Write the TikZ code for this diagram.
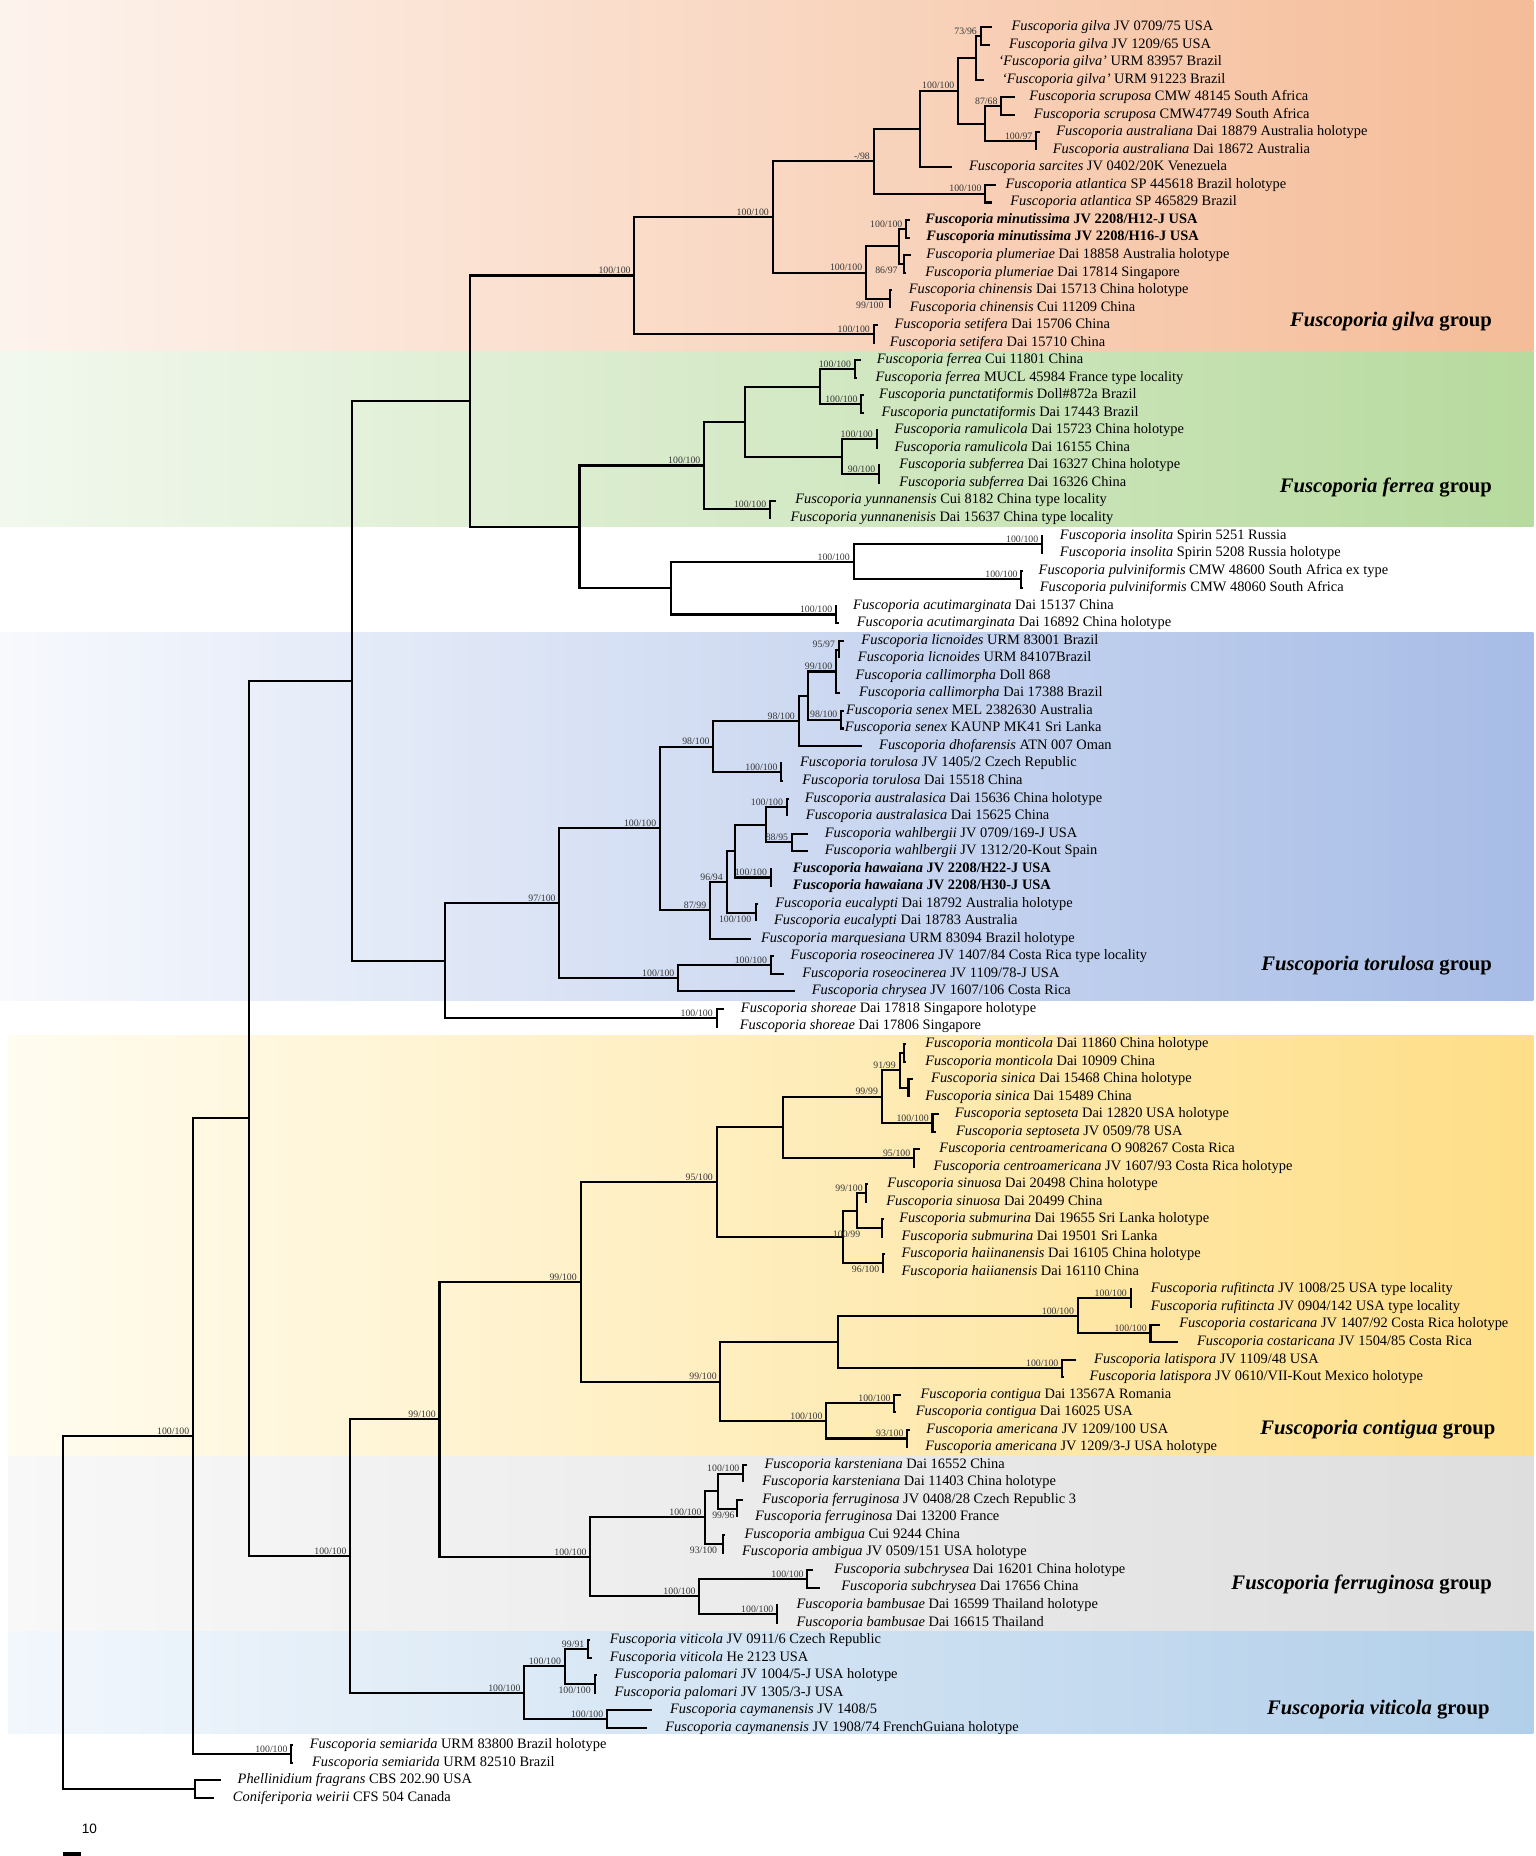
\documentclass[tikz,border=0pt]{standalone}
\usepackage{fontspec}
\setmainfont{Liberation Serif}
\newfontfamily\arialf{Liberation Sans}
\definecolor{gilL}{RGB}{253,243,237}
\definecolor{gilR}{RGB}{245,188,152}
\definecolor{ferL}{RGB}{242,248,238}
\definecolor{ferR}{RGB}{183,218,158}
\definecolor{torL}{RGB}{247,249,253}
\definecolor{torR}{RGB}{167,188,230}
\definecolor{conL}{RGB}{255,252,240}
\definecolor{conR}{RGB}{254,222,135}
\definecolor{fguL}{RGB}{248,248,248}
\definecolor{fguR}{RGB}{222,222,222}
\definecolor{vitL}{RGB}{242,247,252}
\definecolor{vitR}{RGB}{178,207,234}
\definecolor{supc}{RGB}{55,55,55}
\newcommand\F[1]{\textit{Fuscoporia #1}}
\newcommand\lf[4]{\coordinate (t#1) at (#2,#1); \node[leaf] (L#1) at (#3,#1) {#4};}
\newcommand\kids[2]{\foreach \kk in {#2}{\draw[br] (#1) |- (\kk);}}
\newcommand\sa[3]{\node[sup,anchor=south east] (#1) at ([xshift=-3pt,yshift=1.2pt]#2) {#3};}
\newcommand\sbw[4]{\node[sup,anchor=north east] (#1) at ([xshift=#4,yshift=-2.5pt]#2) {#3};}
\begin{document}
\begin{tikzpicture}[x=1pt,y=-14.84pt,
  br/.style={line width=1.75pt},
  leaf/.style={anchor=west, inner sep=0pt, font=\fontsize{12.2}{14}\selectfont, text height=8.4pt, text depth=2.6pt},
  sup/.style={inner sep=0pt, font=\fontsize{8.3}{9}\selectfont, text=supc},
  grp/.style={anchor=east, inner sep=0pt, font=\fontsize{17.5}{20}\selectfont\bfseries}]
% ---------- background bands (px units) ----------
\begin{scope}[y=-1pt, yshift=8.16pt]
  \useasboundingbox (0,0) rectangle (1300,1571);
  \shade[left color=gilL, right color=gilR] (0,0) rectangle (1298,297.5);
  \shade[left color=ferL, right color=ferR] (0,297.5) rectangle (1298,445.9);
  \shade[left color=torL, right color=torR] (0,535) rectangle (1298,846.6);
  \shade[left color=conL, right color=conR] (7,876.3) rectangle (1298,1232.5);
  \shade[left color=fguL, right color=fguR] (7,1232.5) rectangle (1298,1380.9);
  \shade[left color=vitL, right color=vitR] (7,1380.9) rectangle (1298,1467);
  \node[grp] (G1) at (1263,272) {\textit{Fuscoporia gilva} group};
  \node[grp] (G2) at (1263,413) {\textit{Fuscoporia ferrea} group};
  \node[grp] (G3) at (1263,817) {\textit{Fuscoporia torulosa} group};
  \node[grp] (G4) at (1266,1210) {\textit{Fuscoporia contigua} group};
  \node[grp] (G5) at (1263,1341) {\textit{Fuscoporia ferruginosa} group};
  \node[grp] (G6) at (1261,1447) {\textit{Fuscoporia viticola} group};
  \node[anchor=west, inner sep=0pt, font=\arialf\fontsize{11.5}{12}\selectfont] (sc) at (69,1548) {10};
  \coordinate (sbA) at (53.5,1569.2);
  \coordinate (sbB) at (68.5,1569.2);
  \draw[line width=3pt] (sbA) -- (sbB);
\end{scope}
% ---------- leaves ----------
\lf{1}{840}{856}{\F{gilva} JV 0709/75 USA}
\lf{2}{838}{854}{\F{gilva} JV 1209/65 USA}
\lf{3}{827}{845}{\textit{‘Fuscoporia gilva’} URM 83957 Brazil}
\lf{4}{833}{848}{\textit{‘Fuscoporia gilva’} URM 91223 Brazil}
\lf{5}{859}{871}{\F{scruposa} CMW 48145 South Africa}
\lf{6}{859}{875}{\F{scruposa} CMW47749 South Africa}
\lf{7}{880}{894}{\F{australiana} Dai 18879 Australia holotype}
\lf{8}{877}{891}{\F{australiana} Dai 18672 Australia}
\lf{9}{806}{820}{\F{sarcites} JV 0402/20K Venezuela}
\lf{10}{843}{851}{\F{atlantica} SP 445618 Brazil holotype}
\lf{11}{840}{855}{\F{atlantica} SP 465829 Brazil}
\lf{12}{770}{783}{\textbf{\F{minutissima} JV 2208/H12-J USA}}
\lf{13}{770}{784}{\textbf{\F{minutissima} JV 2208/H16-J USA}}
\lf{14}{771}{784}{\F{plumeriae} Dai 18858 Australia holotype}
\lf{15}{767}{783}{\F{plumeriae} Dai 17814 Singapore}
\lf{16}{755}{769}{\F{chinensis} Dai 15713 China holotype}
\lf{17}{753}{770}{\F{chinensis} Cui 11209 China}
\lf{18}{743}{757}{\F{setifera} Dai 15706 China}
\lf{19}{740}{753}{\F{setifera} Dai 15710 China}
\lf{20}{729}{742}{\F{ferrea} Cui 11801 China}
\lf{21}{725}{741}{\F{ferrea} MUCL 45984 France type locality}
\lf{22}{731}{744}{\F{punctatiformis} Doll\#872a Brazil}
\lf{23}{731}{746}{\F{punctatiformis} Dai 17443 Brazil}
\lf{24}{743}{757}{\F{ramulicola} Dai 15723 China holotype}
\lf{25}{743}{757}{\F{ramulicola} Dai 16155 China}
\lf{26}{745}{761}{\F{subferrea} Dai 16327 China holotype}
\lf{27}{745}{761}{\F{subferrea} Dai 16326 China}
\lf{28}{657}{673}{\F{yunnanensis} Cui 8182 China type locality}
\lf{29}{653}{669}{\F{yunnanenisis} Dai 15637 China type locality}
\lf{30}{883}{897}{\F{insolita} Spirin 5251 Russia}
\lf{31}{883}{897}{\F{insolita} Spirin 5208 Russia holotype}
\lf{32}{865.5}{879}{\F{pulviniformis} CMW 48600 South Africa ex type}
\lf{33}{865.5}{880}{\F{pulviniformis} CMW 48060 South Africa}
\lf{34}{708}{722}{\F{acutimarginata} Dai 15137 China}
\lf{35}{710}{725}{\F{acutimarginata} Dai 16892 China holotype}
\lf{36}{714}{729}{\F{licnoides} URM 83001 Brazil}
\lf{37}{710}{726}{\F{licnoides} URM 84107Brazil}
\lf{38}{708}{724}{\F{callimorpha} Doll 868}
\lf{39}{711}{727}{\F{callimorpha} Dai 17388 Brazil}
\lf{40}{714}{716}{\F{senex} MEL 2382630 Australia}
\lf{41}{714}{715}{\F{senex} KAUNP MK41 Sri Lanka}
\lf{42}{730}{744}{\F{dhofarensis} ATN 007 Oman}
\lf{43}{662}{677}{\F{torulosa} JV 1405/2 Czech Republic}
\lf{44}{663}{679}{\F{torulosa} Dai 15518 China}
\lf{45}{668}{681}{\F{australasica} Dai 15636 China holotype}
\lf{46}{666}{682}{\F{australasica} Dai 15625 China}
\lf{47}{684}{698}{\F{wahlbergii} JV 0709/169-J USA}
\lf{48}{684}{698}{\F{wahlbergii} JV 1312/20-Kout Spain}
\lf{49}{653}{671}{\textbf{\F{hawaiana} JV 2208/H22-J USA}}
\lf{50}{653}{671}{\textbf{\F{hawaiana} JV 2208/H30-J USA}}
\lf{51}{642}{656}{\F{eucalypti} Dai 18792 Australia holotype}
\lf{52}{640}{655}{\F{eucalypti} Dai 18783 Australia}
\lf{53}{636}{644}{\F{marquesiana} URM 83094 Brazil holotype}
\lf{54}{655}{669}{\F{roseocinerea} JV 1407/84 Costa Rica type locality}
\lf{55}{664}{679}{\F{roseocinerea} JV 1109/78-J USA}
\lf{56}{673}{687}{\F{chrysea} JV 1607/106 Costa Rica}
\lf{57}{613}{627}{\F{shoreae} Dai 17818 Singapore holotype}
\lf{58}{608}{626}{\F{shoreae} Dai 17806 Singapore}
\lf{59}{767}{783}{\F{monticola} Dai 11860 China holotype}
\lf{60}{767}{783}{\F{monticola} Dai 10909 China}
\lf{61}{773}{788}{\F{sinica} Dai 15468 China holotype}
\lf{62}{769}{783}{\F{sinica} Dai 15489 China}
\lf{63}{795}{808}{\F{septoseta} Dai 12820 USA holotype}
\lf{64}{792}{809}{\F{septoseta} JV 0509/78 USA}
\lf{65}{779}{795}{\F{centroamericana} O 908267 Costa Rica}
\lf{66}{774}{790}{\F{centroamericana} JV 1607/93 Costa Rica holotype}
\lf{67}{735}{751}{\F{sinuosa} Dai 20498 China holotype}
\lf{68}{734}{750}{\F{sinuosa} Dai 20499 China}
\lf{69}{748}{761}{\F{submurina} Dai 19655 Sri Lanka holotype}
\lf{70}{747}{763}{\F{submurina} Dai 19501 Sri Lanka}
\lf{71}{749}{763}{\F{haiinanensis} Dai 16105 China holotype}
\lf{72}{748}{763}{\F{haiianensis} Dai 16110 China}
\lf{73}{958}{974}{\F{rufitincta} JV 1008/25 USA type locality}
\lf{74}{958}{974}{\F{rufitincta} JV 0904/142 USA type locality}
\lf{75}{982}{998}{\F{costaricana} JV 1407/92 Costa Rica holotype}
\lf{76}{997}{1013}{\F{costaricana} JV 1504/85 Costa Rica}
\lf{77}{911}{926}{\F{latispora} JV 1109/48 USA}
\lf{78}{901}{922}{\F{latispora} JV 0610/VII-Kout Mexico holotype}
\lf{79}{763}{779}{\F{contigua} Dai 13567A Romania}
\lf{80}{758}{775}{\F{contigua} Dai 16025 USA}
\lf{81}{770}{784}{\F{americana} JV 1209/100 USA}
\lf{82}{768}{783}{\F{americana} JV 1209/3-J USA holotype}
\lf{83}{632}{647}{\F{karsteniana} Dai 16552 China}
\lf{84}{629}{645}{\F{karsteniana} Dai 11403 China holotype}
\lf{85}{629}{645}{\F{ferruginosa} JV 0408/28 Czech Republic 3}
\lf{86}{624}{639}{\F{ferruginosa} Dai 13200 France}
\lf{87}{614}{630}{\F{ambigua} Cui 9244 China}
\lf{88}{612}{628}{\F{ambigua} JV 0509/151 USA holotype}
\lf{89}{688}{706}{\F{subchrysea} Dai 16201 China holotype}
\lf{90}{694}{712}{\F{subchrysea} Dai 17656 China}
\lf{91}{658}{674}{\F{bambusae} Dai 16599 Thailand holotype}
\lf{92}{658}{674}{\F{bambusae} Dai 16615 Thailand}
\lf{93}{499}{516}{\F{viticola} JV 0911/6 Czech Republic}
\lf{94}{501}{516}{\F{viticola} He 2123 USA}
\lf{95}{505}{520}{\F{palomari} JV 1004/5-J USA holotype}
\lf{96}{504}{520}{\F{palomari} JV 1305/3-J USA}
\lf{97}{552}{567}{\F{caymanensis} JV 1408/5}
\lf{98}{548}{563}{\F{caymanensis} JV 1908/74 FrenchGuiana holotype}
\lf{99}{248}{262}{\F{semiarida} URM 83800 Brazil holotype}
\lf{100}{248}{264}{\F{semiarida} URM 82510 Brazil}
\lf{101}{187}{201}{\textit{Phellinidium fragrans} CBS 202.90 USA}
\lf{102}{181}{197}{\textit{Coniferiporia weirii} CFS 504 Canada}
% ---------- internal nodes ----------
\coordinate (g12) at (830,1.5);
\coordinate (g1234) at (826,2.75);
\coordinate (g56) at (847.5,5.5);
\coordinate (g78) at (877,7.5);
\coordinate (gSA) at (834,6.5);
\coordinate (gG) at (811,4.625);
\coordinate (gGS) at (779,6.8125);
\coordinate (gAt) at (834,10.5);
\coordinate (gM) at (739.5,8.656);
\coordinate (gMi) at (767,12.5);
\coordinate (gPl) at (765,14.5);
\coordinate (gMP) at (761,13.5);
\coordinate (gCh) at (753,16.5);
\coordinate (gMin) at (733,15);
\coordinate (gX) at (654,11.828);
\coordinate (gSe) at (739.5,18.5);
\coordinate (gS) at (537,15.164);
\coordinate (fFe) at (723.5,20.5);
\coordinate (fPu) at (729,22.5);
\coordinate (fFP) at (694.3,21.5);
\coordinate (fRa) at (742,24.5);
\coordinate (fSu) at (744,26.5);
\coordinate (fRS) at (713,25.5);
\coordinate (fFPRS) at (630.4,23.5);
\coordinate (fYu) at (651.7,28.5);
\coordinate (fG) at (596,26);
\coordinate (iIn) at (882,30.5);
\coordinate (iPu) at (864.5,32.5);
\coordinate (iIP) at (722.5,31.5);
\coordinate (iAc) at (707.6,34.5);
\coordinate (i567) at (567.6,33);
\coordinate (n490) at (490.5,29.5);
\coordinate (n398) at (398,22.332);
\coordinate (tLi) at (710,36.5);
\coordinate (tLC) at (707.6,37.75);
\coordinate (tSe) at (712,40.5);
\coordinate (tLS) at (683.6,39.125);
\coordinate (tLSD) at (676,40.5625);
\coordinate (tTo) at (661.3,43.5);
\coordinate (tT1) at (603.8,42.031);
\coordinate (tAu) at (666,45.5);
\coordinate (tWa) at (670.3,47.5);
\coordinate (tAW) at (648,46.5);
\coordinate (tHa) at (652.4,49.5);
\coordinate (tN622) at (622.5,48);
\coordinate (tEu) at (640,51.5);
\coordinate (tN615) at (615,49.75);
\coordinate (tN601) at (601,51.375);
\coordinate (tT2) at (558.6,46.703);
\coordinate (tRo) at (652.4,54.5);
\coordinate (tRC) at (574,55.25);
\coordinate (tN97) at (473.5,50.977);
\coordinate (sSh) at (606.5,57.5);
\coordinate (n377) at (377,54.238);
\coordinate (n298) at (298,38.285);
\coordinate (cMo) at (765,59.5);
\coordinate (cSi) at (769,61.5);
\coordinate (cMS) at (761.4,60.5);
\coordinate (cSp) at (789.3,63.5);
\coordinate (c99) at (746.3,62);
\coordinate (cCe) at (773.7,65.5);
\coordinate (c662) at (662.5,63.75);
\coordinate (cSn) at (733.4,67.5);
\coordinate (cSb) at (746.3,69.5);
\coordinate (cSS) at (725,68.5);
\coordinate (cHa) at (747.4,71.5);
\coordinate (c714) at (713.9,70);
\coordinate (c606) at (606.6,66.875);
\coordinate (cRu) at (957,73.5);
\coordinate (cCo) at (973.8,75.5);
\coordinate (cRC) at (912.3,74.5);
\coordinate (cLa) at (899,77.5);
\coordinate (c710) at (709.5,76);
\coordinate (cCt) at (757,79.5);
\coordinate (cAm) at (767.9,81.5);
\coordinate (c699) at (699.4,80.5);
\coordinate (c610) at (609.8,78.25);
\coordinate (c491) at (491.4,72.5625);
\coordinate (fKa) at (629,83.5);
\coordinate (fFr) at (624,85.5);
\coordinate (fKF) at (608,84.5);
\coordinate (fAm) at (611.7,87.5);
\coordinate (f597) at (597,86);
\coordinate (fSc) at (683.4,89.5);
\coordinate (fBa) at (657.8,91.5);
\coordinate (f592) at (592,90.5);
\coordinate (f499) at (499.7,88.25);
\coordinate (n372) at (372,80.406);
\coordinate (vVi) at (497.8,93.5);
\coordinate (vPa) at (503.7,95.5);
\coordinate (vVP) at (478,94.5);
\coordinate (vCa) at (513.8,97.5);
\coordinate (vG) at (443.7,96);
\coordinate (n296) at (296.5,88.203);
\coordinate (n211) at (211,63.244);
\coordinate (sSe) at (246.5,99.5);
\coordinate (n163) at (163.4,81.372);
\coordinate (oOG) at (165,101.5);
\coordinate (root) at (53.5,91.436);
% ---------- branches ----------
\kids{g12}{t1,t2}
\kids{g1234}{g12,t3,t4}
\kids{g56}{t5,t6}
\kids{g78}{t7,t8}
\kids{gSA}{g56,g78}
\kids{gG}{g1234,gSA}
\kids{gGS}{gG,t9}
\kids{gAt}{t10,t11}
\kids{gM}{gGS,gAt}
\kids{gMi}{t12,t13}
\kids{gPl}{t14,t15}
\kids{gMP}{gMi,gPl}
\kids{gCh}{t16,t17}
\kids{gMin}{gMP,gCh}
\kids{gX}{gM,gMin}
\kids{gSe}{t18,t19}
\kids{gS}{gX,gSe}
\kids{fFe}{t20,t21}
\kids{fPu}{t22,t23}
\kids{fFP}{fFe,fPu}
\kids{fRa}{t24,t25}
\kids{fSu}{t26,t27}
\kids{fRS}{fRa,fSu}
\kids{fFPRS}{fFP,fRS}
\kids{fYu}{t28,t29}
\kids{fG}{fFPRS,fYu}
\kids{iIn}{t30,t31}
\kids{iPu}{t32,t33}
\kids{iIP}{iIn,iPu}
\kids{iAc}{t34,t35}
\kids{i567}{iIP,iAc}
\kids{n490}{fG,i567}
\kids{n398}{gS,n490}
\kids{tLi}{t36,t37}
\kids{tLC}{tLi,t38,t39}
\kids{tSe}{t40,t41}
\kids{tLS}{tLC,tSe}
\kids{tLSD}{tLS,t42}
\kids{tTo}{t43,t44}
\kids{tT1}{tLSD,tTo}
\kids{tAu}{t45,t46}
\kids{tWa}{t47,t48}
\kids{tAW}{tAu,tWa}
\kids{tHa}{t49,t50}
\kids{tN622}{tAW,tHa}
\kids{tEu}{t51,t52}
\kids{tN615}{tN622,tEu}
\kids{tN601}{tN615,t53}
\kids{tT2}{tT1,tN601}
\kids{tRo}{t54,t55}
\kids{tRC}{tRo,t56}
\kids{tN97}{tT2,tRC}
\kids{sSh}{t57,t58}
\kids{n377}{tN97,sSh}
\kids{n298}{n398,n377}
\kids{cMo}{t59,t60}
\kids{cSi}{t61,t62}
\kids{cMS}{cMo,cSi}
\kids{cSp}{t63,t64}
\kids{c99}{cMS,cSp}
\kids{cCe}{t65,t66}
\kids{c662}{c99,cCe}
\kids{cSn}{t67,t68}
\kids{cSb}{t69,t70}
\kids{cSS}{cSn,cSb}
\kids{cHa}{t71,t72}
\kids{c714}{cSS,cHa}
\kids{c606}{c662,c714}
\kids{cRu}{t73,t74}
\kids{cCo}{t75,t76}
\kids{cRC}{cRu,cCo}
\kids{cLa}{t77,t78}
\kids{c710}{cRC,cLa}
\kids{cCt}{t79,t80}
\kids{cAm}{t81,t82}
\kids{c699}{cCt,cAm}
\kids{c610}{c710,c699}
\kids{c491}{c606,c610}
\kids{fKa}{t83,t84}
\kids{fFr}{t85,t86}
\kids{fKF}{fKa,fFr}
\kids{fAm}{t87,t88}
\kids{f597}{fKF,fAm}
\kids{fSc}{t89,t90}
\kids{fBa}{t91,t92}
\kids{f592}{fSc,fBa}
\kids{f499}{f597,f592}
\kids{n372}{c491,f499}
\kids{vVi}{t93,t94}
\kids{vPa}{t95,t96}
\kids{vVP}{vVi,vPa}
\kids{vCa}{t97,t98}
\kids{vG}{vVP,vCa}
\kids{n296}{n372,vG}
\kids{n211}{n298,n296}
\kids{sSe}{t99,t100}
\kids{n163}{n211,sSe}
\kids{oOG}{t101,t102}
\kids{root}{n163,oOG}
% ---------- support values ----------
\sa{s1}{g12}{73/96}
\sa{s2}{gG}{100/100}
\sa{s3}{g56}{87/68}
\sa{s4}{g78}{100/97}
\sa{s5}{gM}{-/98}
\sa{s6}{gAt}{100/100}
\sa{s7}{gX}{100/100}
\sa{s8}{gMi}{100/100}
\sa{s9}{gMin}{100/100}
\sbw{s10}{gPl}{86/97}{-5pt}
\sbw{s11}{gCh}{99/100}{-5pt}
\sa{s12}{gS}{100/100}
\sa{s13}{gSe}{100/100}
\sa{s14}{fFe}{100/100}
\sa{s15}{fPu}{100/100}
\sa{s16}{fRa}{100/100}
\sa{s17}{fSu}{90/100}
\sa{s18}{fG}{100/100}
\sa{s19}{fYu}{100/100}
\sa{s20}{iIn}{100/100}
\sa{s21}{iIP}{100/100}
\sa{s22}{iPu}{100/100}
\sa{s23}{iAc}{100/100}
\sa{s24}{tLi}{95/97}
\sa{s25}{tLC}{99/100}
\sa{s26}{tLSD}{98/100}
\sa{s27}{tSe}{98/100}
\sa{s28}{tT1}{98/100}
\sa{s29}{tTo}{100/100}
\sa{s30}{tAu}{100/100}
\sa{s31}{tT2}{100/100}
\sa{s32}{tWa}{88/95}
\sa{s33}{tN615}{96/94}
\sa{s34}{tHa}{100/100}
\sa{s35}{tN97}{97/100}
\sa{s36}{tN601}{87/99}
\sbw{s37}{tEu}{100/100}{-4pt}
\sa{s38}{tRo}{100/100}
\sa{s39}{tRC}{100/100}
\sa{s40}{sSh}{100/100}
\sa{s41}{cMS}{91/99}
\sa{s42}{c99}{99/99}
\sa{s43}{cSp}{100/100}
\sa{s44}{cCe}{95/100}
\sa{s45}{c606}{95/100}
\sa{s46}{cSn}{99/100}
\sbw{s47}{cSb}{100/99}{-18pt}
\sbw{s48}{cHa}{96/100}{-3pt}
\sa{s49}{c491}{99/100}
\sa{s50}{cRu}{100/100}
\sa{s51}{cRC}{100/100}
\sa{s52}{cCo}{100/100}
\sa{s53}{cLa}{100/100}
\sa{s54}{c610}{99/100}
\sa{s55}{cCt}{100/100}
\sa{s56}{c699}{100/100}
\sa{s57}{cAm}{93/100}
\sa{s58}{n372}{99/100}
\sa{s59}{fKa}{100/100}
\sa{s60}{f597}{100/100}
\sbw{s61}{fFr}{99/96}{-2pt}
\sbw{s62}{fAm}{93/100}{-4.5pt}
\sa{s63}{f499}{100/100}
\sa{s64}{fSc}{100/100}
\sa{s65}{f592}{100/100}
\sa{s66}{fBa}{100/100}
\sa{s67}{n296}{100/100}
\sa{s68}{vVi}{99/91}
\sa{s69}{vVP}{100/100}
\sbw{s70}{vPa}{100/100}{-3.5pt}
\sa{s71}{vG}{100/100}
\sa{s72}{vCa}{100/100}
\sa{s73}{sSe}{100/100}
\sa{s74}{n163}{100/100}
\end{tikzpicture}
\end{document}
